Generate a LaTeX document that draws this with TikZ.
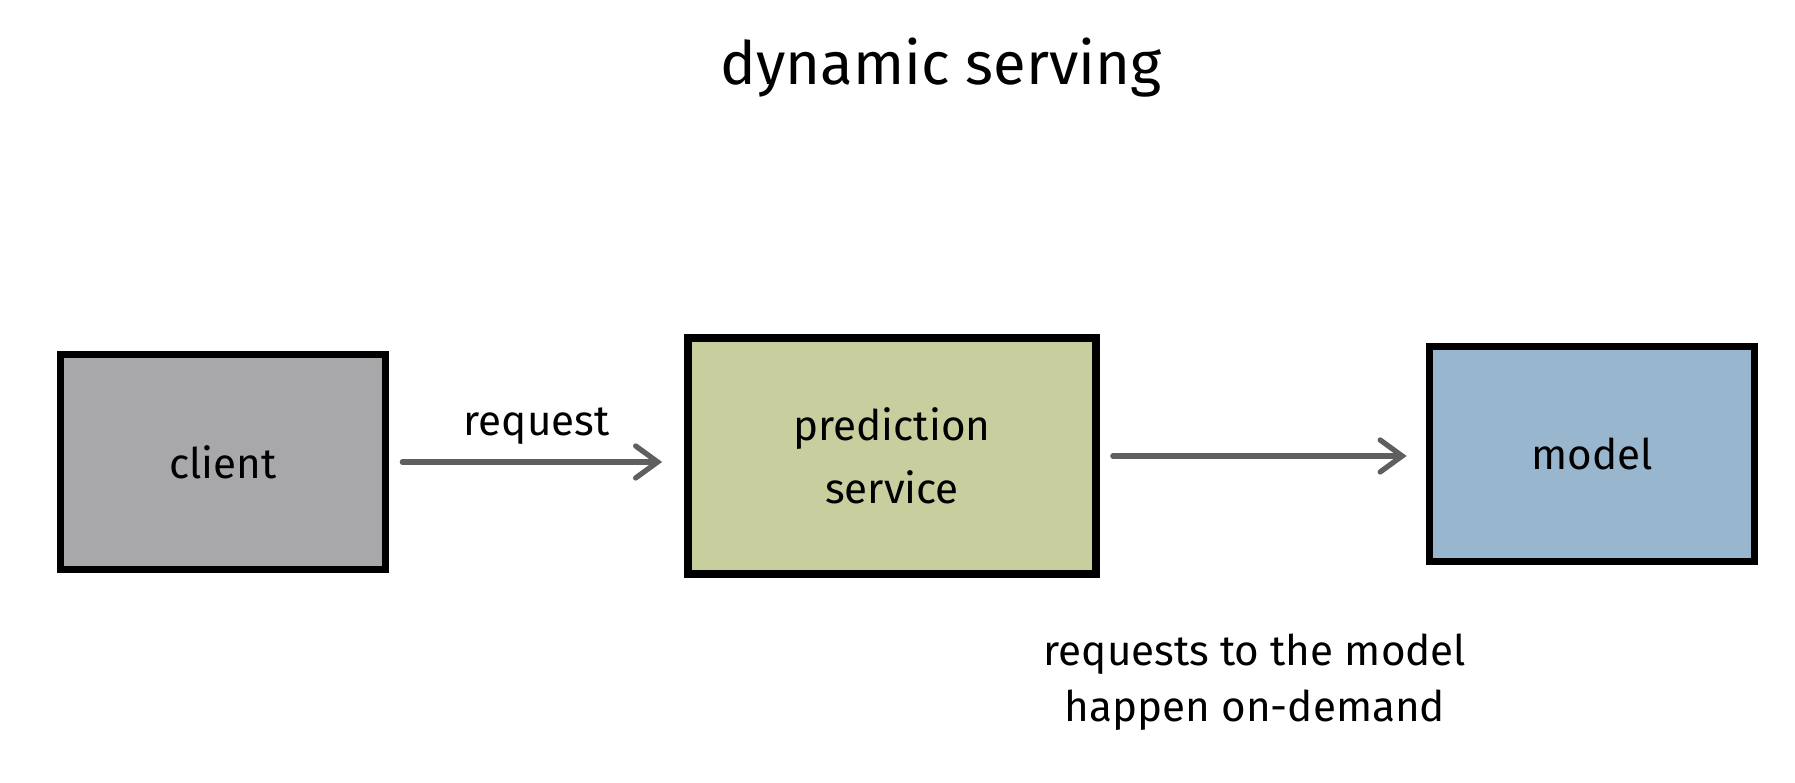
\documentclass[tikz,border=0pt]{standalone}
\usepackage{fontspec}
\setmainfont{Fira Sans}
\usepackage{tikz}
\usetikzlibrary{arrows.meta,positioning}
\definecolor{clientgray}{HTML}{A8A8AA}
\definecolor{servicegreen}{HTML}{C8CE9E}
\definecolor{modelblue}{HTML}{98B6CD}
\definecolor{arrowgray}{HTML}{5F5F5F}

\begin{document}
\begin{tikzpicture}[scale=1, >={Straight Barb[length=2.2mm,width=3.2mm,line cap=round]},
  box/.style={draw=black, line width=2.2pt, minimum width=3.25cm, minimum height=2.15cm,
    font=\fontsize{12}{18}\selectfont, align=center},
  link/.style={->, draw=arrowgray, line width=1.5pt, line cap=round},
  lbl/.style={font=\fontsize{12}{16}\selectfont, align=center}]
  \useasboundingbox (0,0) rectangle (17.95,7.83);
  \node [anchor=base, font=\fontsize{17}{21}\selectfont] (title) at (9.41,6.98) {dynamic serving};
  \node [box, fill=clientgray] (client) at (2.23,3.21) {client};
  \node [box, fill=servicegreen, minimum width=4.08cm, minimum height=2.36cm] (service) at (8.92,3.27) {prediction\\service};
  \node [box, fill=modelblue] (model) at (15.92,3.29) {model};
  \draw [link, shorten <=0.13cm, shorten >=0.22cm] (client.east) -- (client.east -| service.west)
    node [lbl, midway, above=1pt] (req) {request};
  \draw [link, shorten <=0.13cm, shorten >=0.19cm] (service.east) -- (service.east -| model.west);
  \node [lbl] (note) at (12.55,1.01) {requests to the model\\happen on-demand};
\end{tikzpicture}
\end{document}
